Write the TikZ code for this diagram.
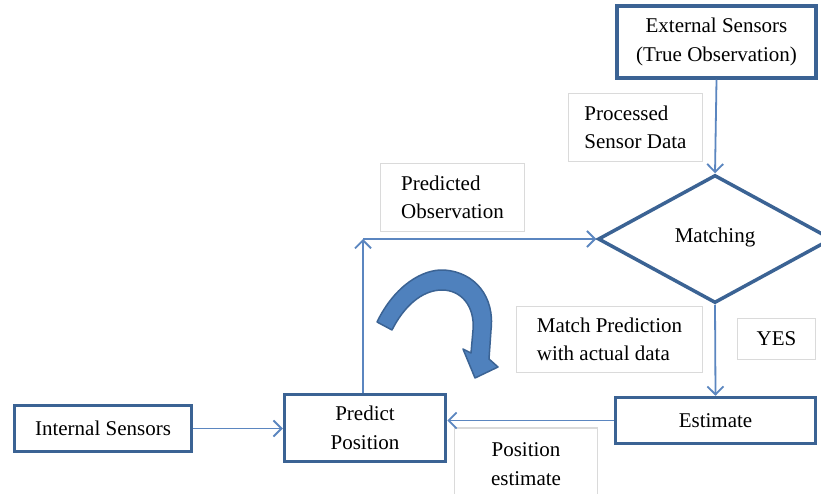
\documentclass[tikz,border=0pt]{standalone}
\usepackage{fontspec}
\setmainfont{Liberation Serif}
\usetikzlibrary{shapes.geometric,arrows.meta}
\definecolor{boxblue}{HTML}{3B6394}
\definecolor{lineblue}{HTML}{5B86C0}
\definecolor{fillblue}{HTML}{4F81BD}
\definecolor{labgray}{HTML}{DADADA}
\begin{document}
\begin{tikzpicture}[x=1pt,y=-1pt,
  every node/.style={font=\fontsize{21}{28.5}\selectfont, inner sep=0pt, align=center},
  mainbox/.style={draw=boxblue, line width=3.5pt, rectangle, fill=white},
  labbox/.style={draw=labgray, line width=1.2pt, rectangle, fill=white, align=left},
  conn/.style={draw=lineblue, line width=1.8pt, -{Straight Barb[length=8pt,width=16pt,line width=1.8pt]}}
]
\useasboundingbox (0,0) rectangle (821,494);
\fill[white] (0,0) rectangle (821,494);

% label boxes
\node[labbox, minimum width=134pt, minimum height=68pt] (proc) at (635.5,127.5) {Processed\\Sensor Data};
\node[labbox, minimum width=144pt, minimum height=68pt] (predobs) at (452.5,197.5) {Predicted\\Observation};
\node[labbox, minimum width=186pt, minimum height=66pt] (matchpred) at (609.5,339.5) {Match Prediction\\with actual data};
\node[labbox, minimum width=78pt, minimum height=41pt, align=center] (yes) at (776.5,339) {YES};
\node[labbox, minimum width=143pt, minimum height=72pt, align=center] (posest) at (526,464) {Position\\estimate};

% main boxes
\node[mainbox, minimum width=199pt, minimum height=72pt] (ext) at (716.5,42) {External Sensors\\(True Observation)};
\node[draw=boxblue, line width=3.5pt, diamond, minimum width=234pt, minimum height=128pt, fill=white] (match) at (715,239) {\raisebox{7pt}{Matching}};
\node[mainbox, minimum width=200pt, minimum height=46pt] (est) at (715.5,420.5) {Estimate};
\node[mainbox, minimum width=161pt, minimum height=67pt] (pred) at (365,428) {Predict\\Position};
\node[mainbox, minimum width=177pt, minimum height=46pt] (int) at (103,428.5) {Internal Sensors};

\coordinate (corner) at ([xshift=-2pt]pred.north |- match.west);

% connectors
\draw[conn] (ext.south) -- (match.north);
\draw[conn] (match.south) -- (est.north);
\draw[conn] (est.west) -- (est.west -| pred.east);
\draw[conn] (int.east) -- (int.east -| pred.west);
\draw[conn] ([xshift=-2pt]pred.north) -- (corner);
\draw[conn] (corner) -- (match.west);

% curved arrow
\filldraw[fill=fillblue, draw=boxblue, line width=1.5pt, line join=round]
  (377,322) .. controls (395,285) and (423,269) .. (444,270)
  .. controls (475,272) and (495,297) .. (491,330)
  -- (489,359) -- (498,367) -- (475,378) -- (463,349) -- (471,353)
  -- (473,330) .. controls (475,306) and (461,290) .. (442,290)
  .. controls (421,290) and (403,308) .. (392,330) -- cycle;
\end{tikzpicture}
\end{document}
